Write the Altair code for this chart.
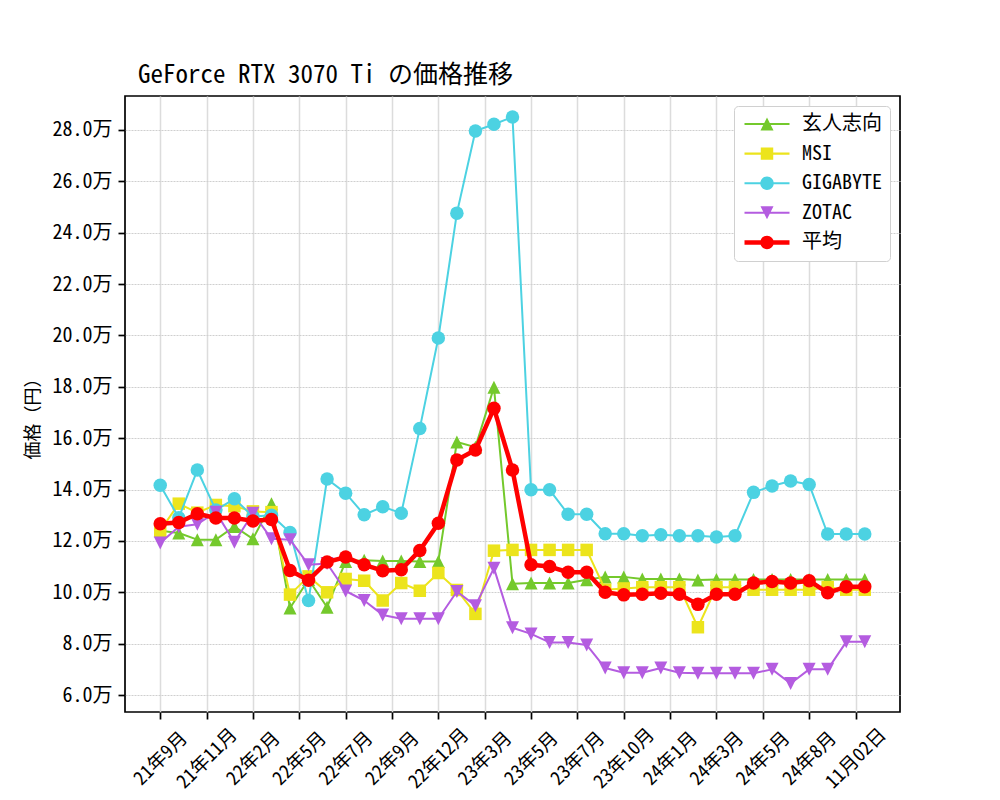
import altair as alt
import pandas as pd

# ---- data -------------------------------------------------------------
tick_labels = ["21年9月", "21年11月", "22年2月", "22年5月", "22年7月", "22年9月",
               "22年12月", "23年3月", "23年5月", "23年7月", "23年10月", "24年1月",
               "24年3月", "24年5月", "24年8月", "11月02日"]

series_names = ["玄人志向", "MSI", "GIGABYTE", "ZOTAC", "平均"]

kurouto = [12.4, 12.31, 12.05, 12.05, 12.56, 12.08, 13.45, 9.39, 10.5, 9.42,
           11.2, 11.25, 11.22, 11.22, 11.2, 11.2, 15.85, 15.65, 17.98, 10.33,
           10.36, 10.36, 10.36, 10.49, 10.6, 10.6, 10.52, 10.52, 10.52, 10.48,
           10.5, 10.5, 10.5, 10.5, 10.5, 10.5, 10.5, 10.5, 10.5]
msi = [12.4, 13.45, 13.1, 13.4, 13.35, 13.15, 13.12, 9.91, 10.62, 10.0,
       10.52, 10.45, 9.68, 10.36, 10.06, 10.75, 10.09, 9.16, 11.62, 11.65,
       11.65, 11.65, 11.65, 11.65, 10.1, 10.15, 10.2, 10.2, 10.2, 8.64,
       10.2, 10.2, 10.1, 10.1, 10.1, 10.1, 10.2, 10.1, 10.1]
gigabyte = [14.17, 12.9, 14.76, 13.2, 13.64, 12.95, 13.0, 12.33, 9.68, 14.41,
            13.86, 13.02, 13.33, 13.08, 16.38, 19.9, 24.76, 27.96, 28.22, 28.5,
            13.99, 13.99, 13.04, 13.04, 12.28, 12.28, 12.2, 12.24, 12.2, 12.2,
            12.15, 12.2, 13.89, 14.14, 14.33, 14.2, 12.27, 12.27, 12.27]
zotac = [11.92, 12.55, 12.65, 13.12, 11.95, 13.08, 12.08, 12.05, 11.07, 11.12,
         10.05, 9.68, 9.12, 8.97, 8.97, 8.97, 10.03, 9.48, 10.94, 8.62,
         8.38, 8.05, 8.05, 7.95, 7.05, 6.87, 6.87, 7.05, 6.87, 6.85,
         6.85, 6.85, 6.85, 7.0, 6.45, 7.0, 7.0, 8.07, 8.07]
average = [12.67, 12.72, 13.06, 12.89, 12.89, 12.78, 12.83, 10.85, 10.47, 11.18,
           11.37, 11.07, 10.84, 10.88, 11.63, 12.69, 15.15, 15.54, 17.16, 14.76,
           11.07, 11.0, 10.78, 10.78, 10.0, 9.9, 9.92, 9.96, 9.92, 9.53,
           9.92, 9.92, 10.36, 10.42, 10.36, 10.45, 9.98, 10.22, 10.22]

values_by_series = [kurouto, msi, gigabyte, zotac, average]
colors = ["#74C92C", "#ECE41C", "#4CD2E2", "#B45CE0", "#FF0000"]

rows = []
for name, vals in zip(series_names, values_by_series):
    for i, v in enumerate(vals):
        rows.append({"idx": i, "series": name, "value": v})
df = pd.DataFrame(rows)

# ---- styling ----------------------------------------------------------
FONT = "Noto Sans Mono CJK JP, DejaVu Sans Mono, Noto Sans CJK JP"

tri_up = "M0,-1L1,1L-1,1Z"
tri_down = "M0,1L-1,-1L1,-1Z"
marker_shapes = [tri_up, "square", "circle", tri_down, "circle"]
marker_sizes = [169, 156, 182, 169, 182]
line_widths = [2, 2, 2, 2, 4.5]

# legend symbols: line sample + marker (unit = 7.5px)
def line_part(h):
    return f"M-1,-{h}H5V{h}H-1Z"
leg_markers = [
    "M2,-0.87L2.87,0.87L1.13,0.87Z",
    "M1.17,-0.83H2.83V0.83H1.17Z",
    "M2.9,0A0.9,0.9 0 1,1 1.1,0A0.9,0.9 0 1,1 2.9,0Z",
    "M2,0.87L1.13,-0.87L2.87,-0.87Z",
    "M2.9,0A0.9,0.9 0 1,1 1.1,0A0.9,0.9 0 1,1 2.9,0Z",
]
leg_paths = [line_part(0.14) + m for m in leg_markers[:4]] + [line_part(0.3) + leg_markers[4]]

tick_vals = [k * 2.5 for k in range(len(tick_labels))]
label_arr = "[" + ",".join("'" + t + "'" for t in tick_labels) + "]"

x_enc = alt.X("idx:Q",
              scale=alt.Scale(domain=[-1.9, 39.9], nice=False, zero=False),
              axis=alt.Axis(values=tick_vals, title=None,
                            labelExpr=label_arr + "[round(datum.value/2.5)]",
                            labelAngle=315, labelAlign="center", labelBaseline="middle",
                            labelPadding=39, labelOverlap=False, labelFontSize=19,
                            labelBound=False, labelFlush=False,
                            gridColor="#dcdcdc", gridWidth=1.5))
y_enc = alt.Y("value:Q",
              scale=alt.Scale(domain=[5.34, 29.32], nice=False, zero=False),
              axis=alt.Axis(values=[6 + 2 * k for k in range(12)],
                            labelExpr="format(datum.value, '.1f') + '万'",
                            title="価格（円）", titlePadding=10, titleFontSize=18,
                            titleY=318,
                            gridColor="#cfcfcf", gridWidth=1, gridDash=[2, 1]))

layers = []
for k, name in enumerate(series_names):
    base = alt.Chart(df).transform_filter(alt.datum.series == name)
    ln = base.mark_line(strokeWidth=line_widths[k], strokeJoin="round",
                        color=colors[k]).encode(x=x_enc, y=y_enc)
    pt = base.mark_point(filled=True, opacity=1, shape=marker_shapes[k],
                         size=marker_sizes[k], strokeWidth=0,
                         color=colors[k]).encode(x=x_enc, y=y_enc)
    layers += [ln, pt]

leg = alt.Legend(title=None, orient="top-right", offset=10,
                 padding=8, fillColor="white",
                 strokeColor="#d0d0d0", cornerRadius=4,
                 labelFontSize=20, labelFont=FONT, labelColor="black",
                 symbolSize=225, symbolStrokeWidth=0,
                 labelOffset=40, rowPadding=9.6)

legend_layer = alt.Chart(df).transform_filter("false").mark_point(
    filled=True, opacity=1, strokeWidth=0).encode(
    x=x_enc, y=y_enc,
    color=alt.Color("series:N", scale=alt.Scale(domain=series_names, range=colors),
                    legend=leg),
    shape=alt.Shape("series:N", scale=alt.Scale(domain=series_names, range=leg_paths),
                    legend=leg))

chart = alt.layer(*layers, legend_layer).properties(
    width=775, height=616,
    title=alt.TitleParams("GeForce RTX 3070 Ti の価格推移", anchor="start", frame="group",
                          dx=13, fontSize=25, font=FONT, fontWeight="normal",
                          color="black", offset=8),
    autosize=alt.AutoSizeParams(type="none"),
    padding={"left": 117, "top": 88, "right": 92, "bottom": 80},
).configure_view(stroke="black", strokeWidth=1.7).configure_axis(
    labelFont=FONT, labelFontSize=20, labelColor="black",
    titleFont=FONT, titleFontSize=20, titleFontWeight="normal", titleColor="black",
    tickColor="black", tickWidth=1.7, tickSize=7, domain=False,
    labelPadding=6,
)

chart.save("out.html", embed_options={"renderer": "svg", "actions": False})
